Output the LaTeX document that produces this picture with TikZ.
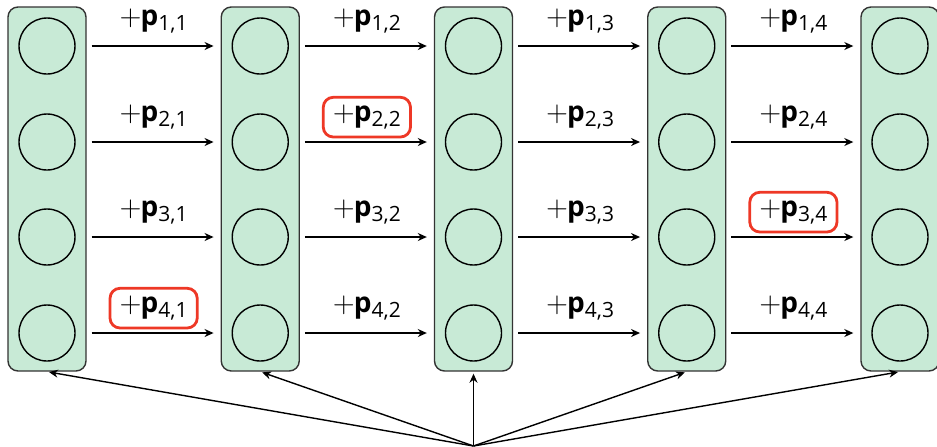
\documentclass[tikz,border=0pt]{standalone}
\usepackage{fontspec}
\setmainfont{Open Sans}
\usetikzlibrary{arrows.meta}
\definecolor{unitgreen}{RGB}{200,234,214}
\definecolor{hlred}{RGB}{238,56,38}
\newcommand{\posid}[2]{$+$\kern-0.5pt\textbf{p}\raisebox{-2.5pt}{\fontsize{10.5}{12}\selectfont #1,#2}}

\begin{document}
\begin{tikzpicture}[x=0.5pt,y=-0.5pt,>={Stealth[length=4.5pt,width=4pt]},line width=0.7pt]
   \tikzset{
     layer/.style={rectangle, rounded corners=5pt, draw=black!80, fill=unitgreen, minimum width=39pt, minimum height=182pt, inner sep=0pt},
     unit/.style={circle, draw=black, minimum size=28pt, inner sep=0pt},
     lbl/.style={inner xsep=4.5pt, inner ysep=3.5pt, font=\fontsize{14}{16}\selectfont},
     hl/.style={draw=hlred, line width=1.4pt, rounded corners=5pt}
   }
   \useasboundingbox (0,0) rectangle (937,446);
   % layers of units
   \foreach \c in {1,...,5} {
       \node[layer] (col\c) at ({47+213.25*(\c-1)},189) {};
       \foreach \r/\y in {1/46,2/142,3/237,4/333}
           \node[unit] (u\c-\r) at ({47+213.25*(\c-1)},\y) {};
   }
   % arrows between layers with their labels
   \foreach \c [evaluate=\c as \n using int(\c+1)] in {1,...,4}
       \foreach \r in {1,...,4}
           \draw[->, shorten <=2.5pt, shorten >=3.5pt] (col\c.east |- u\c-\r) -- (col\n.west |- u\c-\r)
               node[midway, above=2.5pt, lbl] (p\r-\c) {\posid{\r}{\c}};
   \foreach \l in {p2-2,p3-4,p4-1}
       \draw[hl] (\l.south west) rectangle (\l.north east);
   % fan of arrows from the bottom
   \coordinate (src) at (473.5,446);
   \foreach \c in {1,...,5}
       \draw[->, shorten >=1pt] (src) -- (col\c.south);
\end{tikzpicture}
\end{document}
